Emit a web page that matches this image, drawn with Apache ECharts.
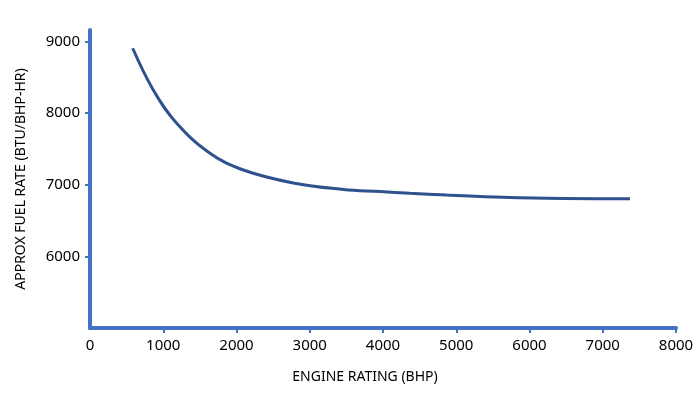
<!DOCTYPE html>
<html>
<head>
<meta charset="utf-8">
<script src="https://cdn.jsdelivr.net/npm/echarts@6/dist/echarts.min.js"></script>
<style>
  html, body { margin: 0; padding: 0; background: #fff; }
  #chart { width: 699px; height: 399px; }
</style>
</head>
<body>
<div id="chart"></div>
<script>
// engine rating (BHP) and approx fuel rate (BTU/BHP-HR)
const rating   = [583, 864, 1184, 1638, 2093, 2775, 3458, 3959, 4369, 4870, 5324, 6235, 7372];
const fuelRate = [8905, 8323, 7858, 7439, 7206, 7025, 6935, 6905, 6880, 6855, 6835, 6812, 6805];

// tick labels
const xTicks = [0, 1000, 2000, 3000, 4000, 5000, 6000, 7000, 8000];
const yTicks = [6000, 7000, 8000, 9000];

const axisBlue = '#4472C4';
const curveBlue = '#2F528F';
const font = 'Noto Sans';

const chart = echarts.init(document.getElementById('chart'));

chart.setOption({
    animation: false,
    grid: { left: 90, right: 23, top: 30, bottom: 71 },
    xAxis: {
        type: 'value',
        min: 0,
        max: 8000,
        name: 'ENGINE RATING (BHP)',
        nameLocation: 'middle',
        nameGap: 42,
        nameTextStyle: { fontFamily: font, fontSize: 14, color: '#000', padding: [0, 36, 0, 0] },
        axisLine: { lineStyle: { color: axisBlue, width: 4 } },
        axisTick: { show: true, length: 5, lineStyle: { color: axisBlue, width: 2 }, customValues: xTicks.slice(1) },
        axisLabel: { fontFamily: font, fontSize: 15, color: '#000', margin: 10, customValues: xTicks, formatter: v => String(v) },
        splitLine: { show: false }
    },
    yAxis: {
        type: 'value',
        min: 5000,
        max: 9160,
        name: 'APPROX FUEL RATE (BTU/BHP-HR)',
        nameLocation: 'middle',
        nameGap: 62,
        nameTextStyle: { fontFamily: font, fontSize: 14, color: '#000' },
        axisLine: { show: true, lineStyle: { color: axisBlue, width: 4 } },
        axisTick: { show: true, length: 5, lineStyle: { color: axisBlue, width: 2 }, customValues: yTicks },
        axisLabel: { fontFamily: font, fontSize: 15, color: '#000', margin: 10, customValues: yTicks, formatter: v => String(v) },
        splitLine: { show: false }
    },
    series: [{
        type: 'line',
        data: rating.map((x, i) => [x, fuelRate[i]]),
        smooth: 0.4,
        showSymbol: false,
        lineStyle: { color: curveBlue, width: 3 }
    }]
});
</script>
</body>
</html>
